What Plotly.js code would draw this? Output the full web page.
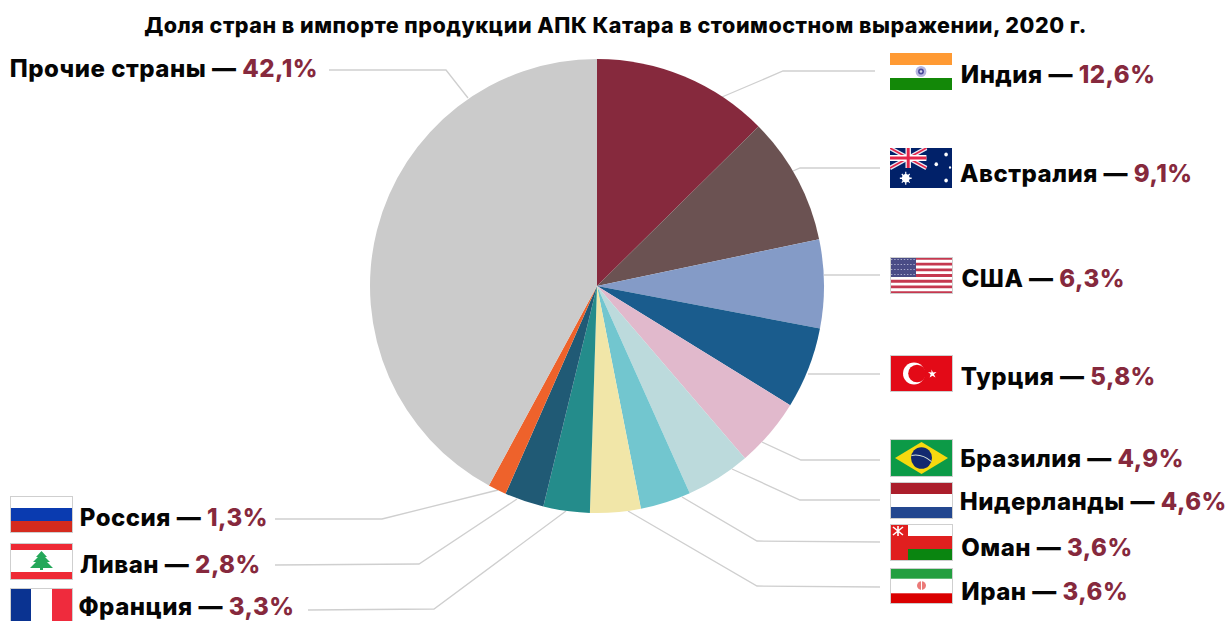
<!DOCTYPE html>
<html lang="ru">
<head>
<meta charset="utf-8">
<script src="https://cdn.plot.ly/plotly-3.0.1.min.js"></script>
<style>html,body{margin:0;padding:0;background:#fff;overflow:hidden}#chart{width:1229px;height:621px}#chart svg text{letter-spacing:.5px}</style>
</head>
<body>
<div id="chart"></div>
<script>
const titleText = 'Доля стран в импорте продукции АПК Катара в стоимостном выражении, 2020 г.';
const countries = ['Индия','Австралия','США','Турция','Бразилия','Нидерланды','Оман','Иран','Франция','Ливан','Россия','Прочие страны'];
const shares = [12.6,9.1,6.3,5.8,4.9,4.6,3.6,3.6,3.3,2.8,1.3,42.1];
const sliceColors = ['#86293d','#6b5252','#849bc7','#1a5c8d','#e1b9cc','#bcdadc','#72c6cf','#f1e6a8','#248c8b','#205a75','#ee622b','#cbcbcb'];
const labelX = [963,963,963,963,963,963,963,963,81,82,82,14];
const labelY = [75,173,278,376,459,501,547,591,606,564,517,68];
const leaders = [
  [[722,97],[783,71],[875,71]],
  [[793,171],[800,168],[880,168]],
  [[824,275],[880,275]],
  [[808,374],[880,374]],
  [[762,442],[801,460],[880,460]],
  [[732,469],[800,500],[880,500]],
  [[682,497],[757,541],[880,542]],
  [[628,511],[757,586],[880,587]],
  [[566,511],[434,609],[308,610]],
  [[517,499],[419,564],[275,565]],
  [[498,490],[382,519],[275,519]],
  [[468,98],[446,70],[329,70]]
];
const B = '<rect x="0.5" y="0.5" width="62" height="36" fill="none" stroke="#cfcfcf" stroke-width="1"/>';
const flagArt = {
  'Индия': [890,53,62,37,'<rect width="63" height="37" fill="#fff"/><rect width="63" height="12" fill="#ff9a33"/><rect y="25" width="63" height="12" fill="#138808"/><circle cx="31.5" cy="18.5" r="5.5" fill="#b6b6de"/><circle cx="31.5" cy="18.5" r="3" fill="#4a4a9a"/><circle cx="31.5" cy="18.5" r="1.3" fill="#d8d8ee"/>'],
  'Австралия': [890,148,62,40,'<rect width="63" height="37" fill="#012169"/><g><path d="M0 0L37 18.5M37 0L0 18.5" stroke="#e8e8f4" stroke-width="4"/><path d="M0 0L37 18.5M37 0L0 18.5" stroke="#e4254a" stroke-width="1.6"/><path d="M18.5 0V18.5M0 9.25H37" stroke="#fff" stroke-width="5.5"/><path d="M18.5 0V18.5M0 9.25H37" stroke="#e4254a" stroke-width="3"/></g><circle cx="16" cy="28" r="4" fill="#fff"/><path d="M16 22V34M10 28H22M12 24L20 32M20 24L12 32" stroke="#fff" stroke-width="1.2"/><circle cx="47" cy="15" r="1.8" fill="#fff"/><circle cx="57" cy="6" r="1.8" fill="#fff"/><circle cx="57" cy="30" r="1.8" fill="#fff"/><circle cx="61" cy="18" r="1.1" fill="#fff"/>'],
  'США': [890,257,63,37,'<rect width="63" height="37" fill="#fff"/><path d="M0 1.4H63M0 7.1H63M0 12.8H63M0 18.5H63M0 24.2H63M0 29.9H63M0 35.6H63" stroke="#c5384f" stroke-width="2.85"/><rect width="26" height="20" fill="#4a4c86"/><path d="M1 2.5H26M1 7.5H26M1 12.5H26M1 17.5H26" stroke="#a9aacb" stroke-width="1.1" stroke-dasharray="1.4 1.8"/>'+B],
  'Турция': [890,355,63,37,'<rect width="63" height="37" fill="#e30a17"/><circle cx="24" cy="18.5" r="11" fill="#fff"/><circle cx="27" cy="18.5" r="8.8" fill="#e30a17"/><path d="M41.5 14.5L43 17.5L46.5 17L44 19.3L45.5 22.5L42.5 20.7L39.7 22.5L40.6 19.3L38 17L41.4 17.5Z" fill="#fff"/>'+B],
  'Бразилия': [890,439,63,38,'<rect width="63" height="37" fill="#0c9a47"/><path d="M31.5 3L58 18.5L31.5 34L5 18.5Z" fill="#f7d90f"/><circle cx="31.5" cy="18.5" r="10.5" fill="#12296f"/><path d="M21.5 16Q32 14 41.5 22" stroke="#d8e4d8" stroke-width="1" fill="none"/>'+B],
  'Нидерланды': [890,482,63,37,'<rect width="63" height="37" fill="#fff"/><rect width="63" height="12" fill="#ab1e2b"/><rect y="25" width="63" height="12" fill="#23478f"/>'+B],
  'Оман': [890,524,63,37,'<rect width="63" height="37" fill="#fff"/><rect y="12" width="63" height="13" fill="#e01f1f"/><rect y="25" width="63" height="12" fill="#0a8510"/><rect width="18" height="37" fill="#e01f1f"/><path d="M3 3L13 11M13 3L3 11M8 2V12" stroke="#fff" stroke-width="1.6"/>'+B],
  'Иран': [890,568,63,36,'<rect width="63" height="37" fill="#fff"/><rect width="63" height="11" fill="#239f40"/><rect y="26" width="63" height="11" fill="#da0000"/><circle cx="31.5" cy="18" r="4.5" fill="#eb7a78"/><path d="M31.5 13V23" stroke="#fff" stroke-width="1"/>'+B],
  'Франция': [10,588,63,37,'<rect width="63" height="37" fill="#fff"/><rect width="21" height="37" fill="#0a3391"/><rect x="42" width="21" height="37" fill="#ef2b3d"/>'+B],
  'Ливан': [10,543,63,37,'<rect width="63" height="37" fill="#fff"/><rect width="63" height="7" fill="#ee2a35"/><rect y="29" width="63" height="7" fill="#ee2a35"/><path d="M31.5 8L37 14L35 14L40 19L37 19L43 25H33V27H30V25H20L26 19L23 19L28 14L26 14Z" fill="#25a85a"/>'+B],
  'Россия': [10,496,63,37,'<rect width="63" height="37" fill="#fff"/><rect y="12" width="63" height="13" fill="#0a3bb0"/><rect y="25" width="63" height="12" fill="#d52b1e"/>'+B]
};
const FONT = 'Inter, "Open Sans", "DejaVu Sans", sans-serif';
const W = 1229, H = 621;
const px = x => x / W, py = y => 1 - y / H;

const fmt = v => v.toFixed(1).replace('.', ',') + '%';
const annotations = countries.map((c, i) => ({
  xref: 'paper', yref: 'paper', x: px(labelX[i]), y: py(labelY[i]),
  xanchor: 'left', yanchor: 'middle', showarrow: false, borderpad: 0,
  text: c + ' — <span style="color:#86293d;font-weight:800">' + fmt(shares[i]) + '</span>',
  font: {family: FONT, size: 24, color: '#050505', weight: 800}
}));
const shapes = leaders.map(pts => ({
  type: 'path', xref: 'paper', yref: 'paper', layer: 'below',
  path: pts.map((p, i) => (i ? 'L' : 'M') + px(p[0]) + ' ' + py(p[1])).join(' '),
  line: {color: '#cfcfcf', width: 1.3}
}));
const images = Object.keys(flagArt).map(k => {
  const f = flagArt[k];
  const svg = '<svg xmlns="http://www.w3.org/2000/svg" width="126" height="74" viewBox="0 0 63 37" preserveAspectRatio="none">' + f[4] + '</svg>';
  return {
    source: 'data:image/svg+xml;charset=utf-8,' + encodeURIComponent(svg),
    xref: 'paper', yref: 'paper', x: px(f[0]), y: py(f[1]),
    sizex: f[2] / W, sizey: f[3] / H, sizing: 'stretch',
    xanchor: 'left', yanchor: 'top', layer: 'above'
  };
});

Plotly.newPlot('chart', [{
  type: 'pie', labels: countries, values: shares, sort: false, direction: 'clockwise', rotation: 0,
  marker: {colors: sliceColors, line: {width: 0}},
  textinfo: 'none', hoverinfo: 'label+percent', showlegend: false,
  domain: {x: [px(370), px(824)], y: [py(513), py(59)]}
}], {
  width: W, height: H, autosize: false,
  margin: {l: 0, r: 0, t: 0, b: 0},
  paper_bgcolor: '#fff', showlegend: false,
  title: {text: titleText, x: 615.5 / W, xanchor: 'center', xref: 'paper', y: py(25), yref: 'paper', yanchor: 'middle',
    font: {family: FONT, size: 21.5, color: '#050505', weight: 800}},
  annotations, shapes, images
}, {displayModeBar: false, staticPlot: true});
</script>
</body>
</html>
